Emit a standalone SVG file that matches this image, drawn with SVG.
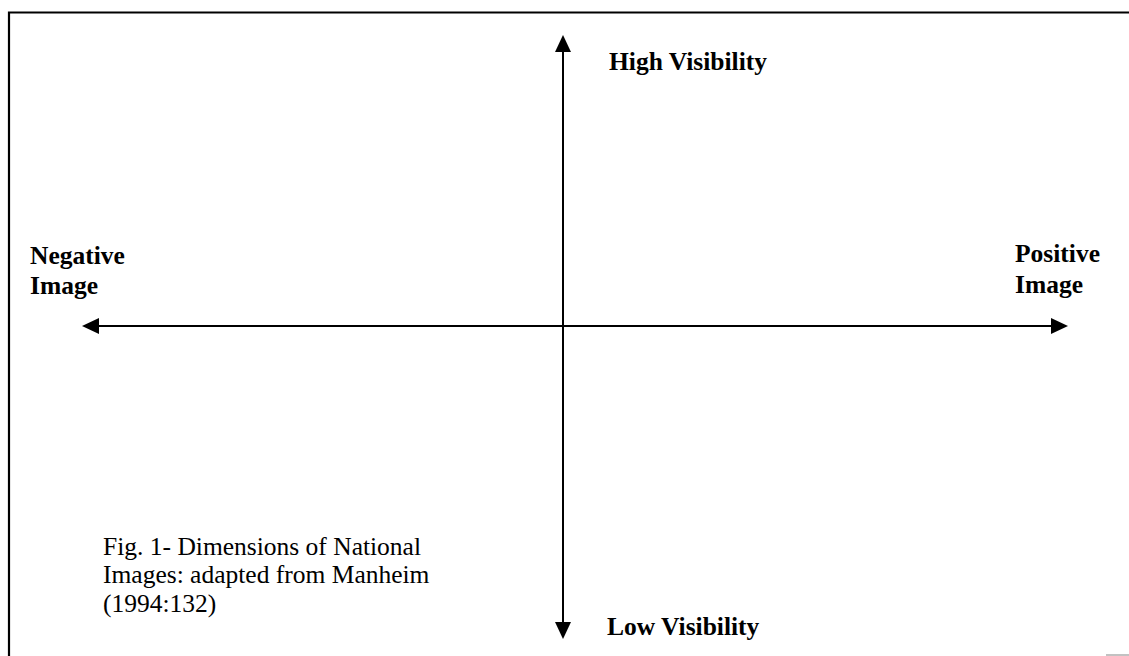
<svg xmlns="http://www.w3.org/2000/svg" width="1129" height="656" viewBox="0 0 1129 656">
  <style>
    .frame { fill: none; stroke: #000; stroke-width: 2.2; }
    .axis { stroke: #000; stroke-width: 2; }
    .head { fill: #000; }
    .label { font-family: "Liberation Serif", "Times New Roman", serif; font-weight: bold; font-size: 25.5px; fill: #000; }
    .caption { font-family: "Liberation Serif", "Times New Roman", serif; font-size: 25.5px; fill: #000; }
  </style>
  <rect width="1129" height="656" fill="#fff"/>
  <!-- outer frame (top and left edges) -->
  <path class="frame" d="M9 660 V12.5 H1135"/>
  <line x1="1106" y1="655" x2="1129" y2="655" stroke="#999" stroke-width="1.2"/>

  <g id="connectors">
    <!-- vertical axis: visibility -->
    <line class="axis" x1="563" y1="48" x2="563" y2="626"/>
    <polygon class="head" points="563,35 555,52 571,52"/>
    <polygon class="head" points="563,639 555,622 571,622"/>
    <!-- horizontal axis: image -->
    <line class="axis" x1="96" y1="326" x2="1054" y2="326"/>
    <polygon class="head" points="82,326 99,318 99,334"/>
    <polygon class="head" points="1068,326 1051,318 1051,334"/>
  </g>

  <g id="high-visibility">
    <text class="label" x="609" y="70">High Visibility</text>
  </g>
  <g id="low-visibility">
    <text class="label" x="607" y="635">Low Visibility</text>
  </g>
  <g id="negative-image">
    <text class="label" x="30" y="264">Negative</text>
    <text class="label" x="30" y="294">Image</text>
  </g>
  <g id="positive-image">
    <text class="label" x="1015" y="262">Positive</text>
    <text class="label" x="1015" y="293">Image</text>
  </g>
  <g id="caption">
    <text class="caption" x="103" y="555">Fig. 1- Dimensions of National</text>
    <text class="caption" x="103" y="583">Images: adapted from Manheim</text>
    <text class="caption" x="103" y="612">(1994:132)</text>
  </g>
</svg>
